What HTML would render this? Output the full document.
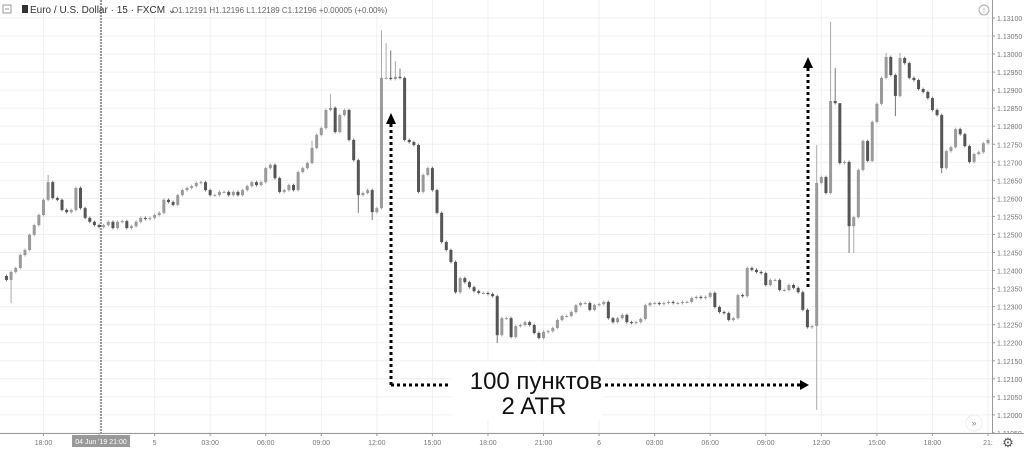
<!DOCTYPE html>
<html><head><meta charset="utf-8">
<style>
html,body{margin:0;padding:0;background:#fff;}
body{width:1024px;height:452px;overflow:hidden;position:relative;font-family:"Liberation Sans",sans-serif;}
svg{position:absolute;left:0;top:0;}
</style></head>
<body>
<svg id="chart" width="1024" height="452" xmlns="http://www.w3.org/2000/svg">
  <g id="grid"></g>
  <g id="candles"></g>
  <line x1="101" y1="0" x2="101" y2="433" stroke="#333" stroke-width="1" stroke-dasharray="2 1"/>
  <g id="yaxis"></g>
  <g id="xaxis"></g>
  <g font-size="10" fill="#444">
    <rect x="3" y="5" width="8" height="8" fill="none" stroke="#999"/>
    <line x1="5" y1="9" x2="9" y2="9" stroke="#999"/>
    <rect x="22" y="5" width="6" height="8" fill="#333"/>
    <text x="30" y="13" fill="#333">Euro / U.S. Dollar · 15 · FXCM ⌄</text>
    <text x="172" y="13" font-size="8" fill="#666">O1.12191  H1.12196  L1.12189  C1.12196  +0.00005 (+0.00%)</text>
  </g>
  <circle cx="984" cy="10" r="5" fill="none" stroke="#aaa"/>
  <text x="984" y="13" font-size="7" fill="#aaa" text-anchor="middle">!</text>
  <circle cx="974" cy="423" r="8" fill="#fff" stroke="#eee"/>
  <text x="974" y="426" font-size="9" fill="#888" text-anchor="middle">»</text>
  <text x="1008" y="447" font-size="13" fill="#555" text-anchor="middle">⚙</text>
  <g>
    <line x1="391" y1="385" x2="391" y2="124" stroke="#000" stroke-width="3" stroke-dasharray="3 3"/>
    <polygon points="386,124 396,124 391,113" fill="#000"/>
    <line x1="391" y1="385" x2="449" y2="385" stroke="#000" stroke-width="3" stroke-dasharray="3 3"/>
    <line x1="605" y1="385" x2="801" y2="385" stroke="#000" stroke-width="3" stroke-dasharray="3 3"/>
    <polygon points="800,380 800,390 809,385" fill="#000"/>
    <line x1="808" y1="287" x2="808" y2="68" stroke="#000" stroke-width="3" stroke-dasharray="3 3"/>
    <polygon points="803,68 813,68 808,57" fill="#000"/>
    <rect x="452" y="362" width="150" height="58" fill="#fff"/>
    <text x="536" y="389" font-size="24" fill="#111" text-anchor="middle">100 пунктов</text>
    <text x="534" y="414" font-size="24" fill="#111" text-anchor="middle">2 ATR</text>
  </g>
</svg>
<script>
const closes=[1.12374,1.12396,1.12407,1.12443,1.12457,1.12499,1.12526,1.12554,1.12596,1.12645,
1.12601,1.12596,1.12568,1.12562,1.12568,1.12629,1.12573,1.12546,1.12535,1.12526,
1.12521,1.12526,1.12535,1.12518,1.12535,1.12537,1.12518,1.12523,1.12535,1.12546,
1.12543,1.12546,1.12554,1.12560,1.12596,1.12590,1.12582,1.12609,1.12623,1.12629,
1.12634,1.12643,1.12645,1.12623,1.12609,1.12609,1.12618,1.12618,1.12609,1.12618,
1.12609,1.12623,1.12634,1.12645,1.12637,1.12645,1.12684,1.12693,1.12656,1.12618,
1.12623,1.12637,1.12623,1.12673,1.12684,1.12698,1.12740,1.12776,1.12795,1.12845,
1.12851,1.12784,1.12831,1.12845,1.12762,1.12706,1.12609,1.12615,1.12623,1.12562,
1.12573,1.12934,1.12934,1.12931,1.12937,1.12934,1.12762,1.12756,1.12748,1.12618,
1.12665,1.12684,1.12623,1.12560,1.12479,1.12457,1.12424,1.12340,1.12379,1.12368,
1.12354,1.12343,1.12338,1.12338,1.12335,1.12329,1.12221,1.12268,1.12268,1.12216,
1.12246,1.12249,1.12257,1.12249,1.12227,1.12213,1.12230,1.12232,1.12241,1.12263,
1.12274,1.12274,1.12285,1.12304,1.12310,1.12310,1.12291,1.12304,1.12307,1.12313,
1.12268,1.12257,1.12268,1.12277,1.12257,1.12255,1.12257,1.12266,1.12304,1.12310,
1.12310,1.12307,1.12310,1.12313,1.12310,1.12310,1.12313,1.12313,1.12324,1.12327,
1.12324,1.12327,1.12338,1.12299,1.12285,1.12282,1.12263,1.12268,1.12332,1.12329,
1.12407,1.12402,1.12396,1.12393,1.12360,1.12374,1.12374,1.12346,1.12346,1.12360,
1.12352,1.12340,1.12291,1.12243,1.12246,
1.12643,1.12659,1.12615,1.12870,1.12864,1.12698,1.12701,1.12523,1.12548,1.12679,
1.12759,1.12704,1.12812,1.12862,1.12934,1.12992,1.12942,1.12884,1.12989,1.12975,
1.12934,1.12928,1.12903,1.12895,1.12878,1.12845,1.12831,1.12684,1.12731,1.12742,
1.12792,1.12778,1.12745,1.12701,1.12723,1.12728,1.12753,1.12762];
const firstOpen=1.12385;
const highOverrides={9:1.12665,81:1.13066,82:1.1303,83:1.1301,84:1.1298,85:1.1296,175:1.12748,178:1.13089,179:1.12961,180:1.12845,190:1.13003,193:1.13003,66:1.1276,70:1.1289};
const lowOverrides={175:1.12014,182:1.12449,183:1.12449,192:1.12828,202:1.1267,106:1.12199,76:1.1256,79:1.1254,1:1.1231};
const priceTicks=[1.1310,1.1305,1.1300,1.1295,1.1290,1.1285,1.1280,1.1275,1.1270,1.1265,1.1260,1.1255,1.1250,1.1245,1.1240,1.1235,1.1230,1.1225,1.1220,1.1215,1.1210,1.1205,1.1200,1.1195];
const timeLabels=["18:00","","5","03:00","06:00","09:00","12:00","15:00","18:00","21:00","6","03:00","06:00","09:00","12:00","15:00","18:00","21:"];
const timeLabelBars=[8,20,32,44,56,68,80,92,104,116,128,140,152,164,176,188,200,212];

const NS="http://www.w3.org/2000/svg";
const Y0=18, PXPP=36080, PTOP=1.131;
function yScale(p){return Y0+(PTOP-p)*PXPP;}
const PITCH=4.63, XLAST=988;
function xScale(i){return XLAST-(closes.length-1-i)*PITCH;}
function mk(tag,parent,attrs){const e=document.createElementNS(NS,tag);for(const k in attrs)e.setAttribute(k,attrs[k]);parent.appendChild(e);return e;}

const grid=document.getElementById('grid');
const yaxis=document.getElementById('yaxis');
mk('rect',yaxis,{x:992,y:0,width:32,height:452,fill:'#fff'});
mk('line',yaxis,{x1:992.5,y1:0,x2:992.5,y2:452,stroke:'#999'});
priceTicks.forEach(p=>{
  const y=yScale(p);
  const gl=mk('line',grid,{x1:0,y1:y,x2:992,y2:y,stroke:'#f0f0f0'});
  
  
  mk('line',yaxis,{x1:992,y1:y,x2:995,y2:y,stroke:'#999'});
  const t=mk('text',yaxis,{x:997,y:y+3,'font-size':7,fill:'#777'});
  
  
  t.textContent=p.toFixed(5);
});
const xaxis=document.getElementById('xaxis');
mk('rect',xaxis,{x:0,y:433,width:1024,height:19,fill:'#fff'});
mk('line',xaxis,{x1:0,y1:433.5,x2:1024,y2:433.5,stroke:'#999'});
timeLabelBars.forEach((b,k)=>{
  const x=xScale(b);
  const gl=mk('line',grid,{x1:x,y1:0,x2:x,y2:433,stroke:'#f0f0f0'});
  
  
  mk('line',xaxis,{x1:x,y1:433,x2:x,y2:436,stroke:'#999'});
  if(timeLabels[k]){
    const t=mk('text',xaxis,{x:x,y:445,'font-size':7,fill:'#777','text-anchor':'middle'});
    
    
    t.textContent=timeLabels[k];
  }
});
const cb=mk('rect',xaxis,{x:72,y:435,width:58,height:12,fill:'#999'});


const ct=mk('text',xaxis,{x:101,y:444,'font-size':7,fill:'#fff','text-anchor':'middle'});
ct.textContent="04 Jun '19  21:00";

const cg=document.getElementById('candles');
closes.forEach((c,i)=>{
  const o=i===0?firstOpen:closes[i-1];
  const hi=highOverrides[i]!==undefined?highOverrides[i]:Math.max(o,c)+0.00004;
  const lo=lowOverrides[i]!==undefined?lowOverrides[i]:Math.min(o,c)-0.00004;
  const up=c>=o;
  const col=up?'#9a9a9a':'#555';
  const x=xScale(i);
  const g=mk('g',cg,{});
  
  
  mk('line',g,{x1:x,y1:yScale(hi),x2:x,y2:yScale(lo),stroke:up?'#aaa':'#777','stroke-width':1});
  const yt=yScale(Math.max(o,c)), yb=yScale(Math.min(o,c));
  mk('rect',g,{x:x-1.5,y:yt,width:3,height:Math.max(1,yb-yt),fill:col});
});
</script>
</body></html>
